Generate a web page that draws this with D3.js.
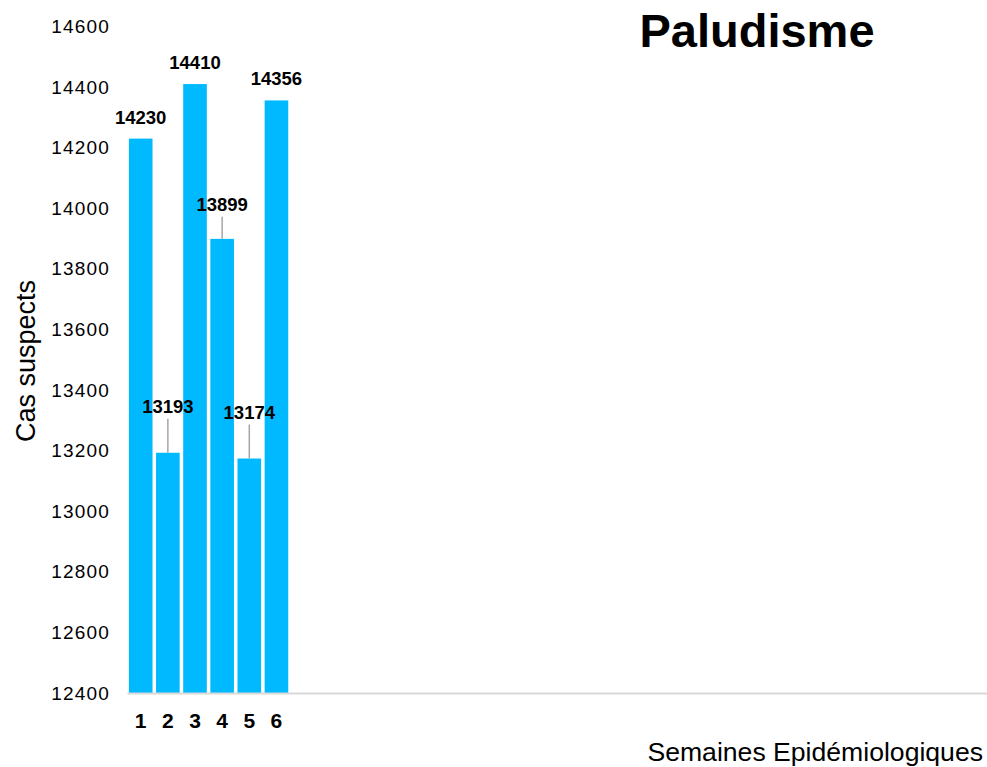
<!DOCTYPE html>
<html>
<head>
<meta charset="utf-8">
<script src="https://cdn.jsdelivr.net/npm/d3@7"></script>
<style>
  body { margin: 0; background: #fff; }
  svg { display: block; font-family: "Liberation Sans", Arial, sans-serif; }
</style>
</head>
<body>
<div id="chart"></div>
<script>
const weeks = [1, 2, 3, 4, 5, 6];
const cases = [14230, 13193, 14410, 13899, 13174, 14356];
const yTicks = [12400, 12600, 12800, 13000, 13200, 13400, 13600, 13800, 14000, 14200, 14400, 14600];
const totalWeeks = 32;

const width = 987, height = 767;

// labels lifted above the bar with a leader line
const labelLift = { 2: 40, 4: 28, 5: 40 };

const svg = d3.select("#chart").append("svg")
    .attr("width", width)
    .attr("height", height);

const x = d3.scaleBand()
    .domain(d3.range(1, totalWeeks + 1))
    .range([127, 996])
    .paddingInner(0.13)
    .paddingOuter(0.07);

const y = d3.scaleLinear()
    .domain([12400, 14600])
    .range([693, 26.5]);

const data = weeks.map((w, i) => ({ week: w, value: cases[i] }));

// y axis (labels only)
const yAxis = svg.append("g")
    .attr("transform", "translate(110,0)")
    .call(d3.axisLeft(y).tickValues(yTicks).tickSize(0).tickPadding(0).tickFormat(d3.format("d")));
yAxis.select(".domain").remove();
yAxis.selectAll("text")
    .style("font-family", "'Liberation Sans', Arial, sans-serif")
    .style("font-size", "19px")
    .style("letter-spacing", "1.2px")
    .attr("fill", "#000");

// bars
svg.selectAll(".bar")
    .data(data)
    .enter()
    .append("rect")
    .attr("class", "bar")
    .attr("x", d => x(d.week))
    .attr("y", d => y(d.value))
    .attr("width", x.bandwidth())
    .attr("height", d => y(12400) - y(d.value))
    .attr("fill", "#00B9FF");

// x axis
const xAxis = svg.append("g")
    .attr("transform", `translate(0,${y(12400)})`)
    .call(d3.axisBottom(x).tickValues(weeks).tickSize(0).tickPadding(20));
xAxis.select(".domain")
    .attr("stroke", "#d9d9d9")
    .attr("stroke-width", 2);
xAxis.selectAll("text")
    .style("font-family", "'Liberation Sans', Arial, sans-serif")
    .style("font-size", "21px")
    .style("font-weight", "bold")
    .attr("fill", "#000");

// leader lines
svg.selectAll(".leader")
    .data(data.filter(d => labelLift[d.week]))
    .enter()
    .append("line")
    .attr("class", "leader")
    .attr("x1", d => x(d.week) + x.bandwidth() / 2)
    .attr("x2", d => x(d.week) + x.bandwidth() / 2)
    .attr("y1", d => y(d.value) - labelLift[d.week] + 6)
    .attr("y2", d => y(d.value))
    .attr("stroke", "#a6a6a6")
    .attr("stroke-width", 1.5);

// value labels
svg.selectAll(".label")
    .data(data)
    .enter()
    .append("text")
    .attr("class", "label")
    .attr("x", d => x(d.week) + x.bandwidth() / 2)
    .attr("y", d => y(d.value) - (labelLift[d.week] || 15))
    .attr("text-anchor", "middle")
    .style("font-size", "18.5px")
    .style("font-weight", "bold")
    .attr("fill", "#000")
    .text(d => d.value);

// title
svg.append("text")
    .attr("x", 757)
    .attr("y", 47)
    .attr("text-anchor", "middle")
    .style("font-size", "47px")
    .style("font-weight", "bold")
    .attr("fill", "#000")
    .text("Paludisme");

// axis titles
svg.append("text")
    .attr("transform", "translate(35,361) rotate(-90)")
    .attr("text-anchor", "middle")
    .style("font-size", "27px")
    .attr("fill", "#000")
    .text("Cas suspects");

svg.append("text")
    .attr("x", 983)
    .attr("y", 761)
    .attr("text-anchor", "end")
    .style("font-size", "26.6px")
    .attr("fill", "#000")
    .text("Semaines Epidémiologiques");
</script>
</body>
</html>
